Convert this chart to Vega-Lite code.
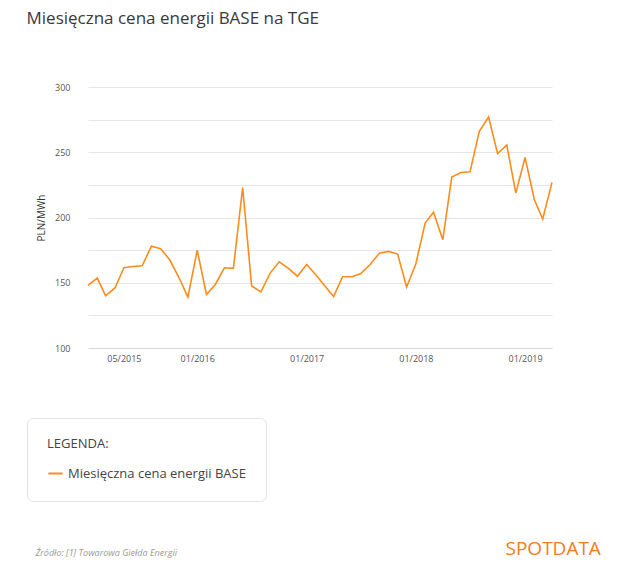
{
"$schema":"https://vega.github.io/schema/vega-lite/v6.json",
"width":464,"height":261,
"autosize":{"type":"none"},
"padding":{"left":88,"top":87,"right":88,"bottom":225},
"background":"white",
"config":{"font":"Open Sans","view":{"stroke":null}},
"title":{"text":"Miesięczna cena energii BASE na TGE","anchor":"start","frame":"bounds","dx":0,"offset":55,"fontSize":17,"fontWeight":"normal","color":"#3a3a3a","font":"Open Sans"},
"data":{"values":[
{"d":"2015-01-01","v":148},{"d":"2015-02-01","v":153.6},{"d":"2015-03-01","v":140},{"d":"2015-04-01","v":146},
{"d":"2015-05-01","v":161.5},{"d":"2015-06-01","v":162.5},{"d":"2015-07-01","v":163},{"d":"2015-08-01","v":178},
{"d":"2015-09-01","v":176},{"d":"2015-10-01","v":167.6},{"d":"2015-11-01","v":154},{"d":"2015-12-01","v":139},
{"d":"2016-01-01","v":175},{"d":"2016-02-01","v":141},{"d":"2016-03-01","v":148.5},{"d":"2016-04-01","v":161.5},
{"d":"2016-05-01","v":161},{"d":"2016-06-01","v":223},{"d":"2016-07-01","v":147.5},{"d":"2016-08-01","v":143},
{"d":"2016-09-01","v":157.4},{"d":"2016-10-01","v":166},{"d":"2016-11-01","v":161},{"d":"2016-12-01","v":155},
{"d":"2017-01-01","v":164},{"d":"2017-02-01","v":156},{"d":"2017-03-01","v":148},{"d":"2017-04-01","v":139.5},
{"d":"2017-05-01","v":154.6},{"d":"2017-06-01","v":154.6},{"d":"2017-07-01","v":157},{"d":"2017-08-01","v":164},
{"d":"2017-09-01","v":172.7},{"d":"2017-10-01","v":174},{"d":"2017-11-01","v":172},{"d":"2017-12-01","v":146.7},
{"d":"2018-01-01","v":164.6},{"d":"2018-02-01","v":195.7},{"d":"2018-03-01","v":204},{"d":"2018-04-01","v":183},
{"d":"2018-05-01","v":231},{"d":"2018-06-01","v":234.5},{"d":"2018-07-01","v":235},{"d":"2018-08-01","v":266},
{"d":"2018-09-01","v":277},{"d":"2018-10-01","v":249},{"d":"2018-11-01","v":255.5},{"d":"2018-12-01","v":218.7},
{"d":"2019-01-01","v":246},{"d":"2019-02-01","v":213.6},{"d":"2019-03-01","v":198.8},{"d":"2019-04-01","v":226.9}
]},
"layer":[
{"mark":{"type":"line","strokeWidth":1.6},
 "encoding":{
  "x":{"field":"d","type":"temporal","scale":{"type":"utc"},
   "axis":{"values":[{"year":2015,"month":5,"date":1,"utc":true},{"year":2016,"month":1,"date":1,"utc":true},{"year":2017,"month":1,"date":1,"utc":true},{"year":2018,"month":1,"date":1,"utc":true},{"year":2019,"month":1,"date":1,"utc":true}],
    "labelExpr":"utcFormat(datum.value, '%m/%Y')","grid":false,"domain":true,"domainColor":"#d8d8d8","ticks":false,"labelFontSize":9,"labelColor":"#555","labelPadding":6,
    "title":"Źródło: [1] Towarowa Giełda Energii","titleX":-53,"titleY":200,"titleAlign":"left","titleFontStyle":"italic","titleFontWeight":"normal","titleFontSize":9,"titleColor":"#999"}},
  "y":{"field":"v","type":"quantitative","scale":{"domain":[100,300]},
   "axis":{"values":[100,125,150,175,200,225,250,275,300],"labelExpr":"datum.value % 50 == 0 ? datum.label : ''","gridColor":"#e6e6e6","domain":false,"ticks":false,"labelFontSize":9,"labelColor":"#555","labelPadding":18,"title":"PLN/MWh","titleFontSize":10,"titleFontWeight":"normal","titleColor":"#333","titlePadding":8}},
  "color":{"datum":"Miesięczna cena energii BASE","type":"nominal","scale":{"range":["#fd8c1c"]},
   "legend":{"orient":"none","legendX":-61,"legendY":331,"title":"LEGENDA:","titleFontSize":13,"titleFontWeight":"normal","titleColor":"#444","titlePadding":14,"padding":20,"strokeColor":"#e4e4e4","cornerRadius":6,"fillColor":"white","labelFontSize":13,"labelColor":"#444","symbolType":"stroke","symbolStrokeWidth":2,"symbolSize":200,"labelLimit":500}}}},
{"mark":{"type":"line","opacity":0},
 "encoding":{
  "x":{"field":"d","type":"temporal","scale":{"type":"utc"}},
  "y":{"field":"v","type":"quantitative","scale":{"domain":[100,300]},
   "axis":{"orient":"right","labels":false,"ticks":false,"domain":false,"grid":false,"title":"SPOTDATA","titleAngle":0,"titleX":-47,"titleY":461,"titleAlign":"left","titleBaseline":"middle","titleFontSize":19,"titleFontWeight":"normal","titleColor":"#f47b20"}}}}
],
"resolve":{"scale":{"y":"independent"}}
}
